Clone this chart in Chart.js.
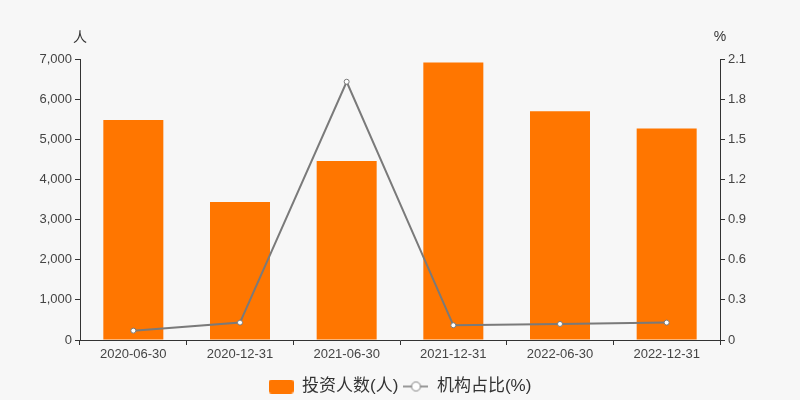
<!DOCTYPE html>
<html>
<head>
<meta charset="utf-8">
<script src="https://cdn.jsdelivr.net/npm/chart.js@4"></script>
<style>
  html, body { margin: 0; padding: 0; background: #f7f7f7; }
  canvas { display: block; }
</style>
</head>
<body>
<canvas id="investorChart" width="800" height="400"></canvas>
<script>
// chart data
const dates = ['2020-06-30', '2020-12-31', '2021-06-30', '2021-12-31', '2022-06-30', '2022-12-31'];
const investorCounts = [5480, 3440, 4460, 6910, 5700, 5270];
const institutionRatio = [0.07, 0.13, 1.93, 0.11, 0.12, 0.13];
const leftTicks = ['0', '1,000', '2,000', '3,000', '4,000', '5,000', '6,000', '7,000'];
const rightTicks = ['0', '0.3', '0.6', '0.9', '1.2', '1.5', '1.8', '2.1'];

const barColor = '#ff7600';
const lineColor = '#7a7a7a';
const fontFamily = '"Liberation Sans", "Noto Sans CJK SC", sans-serif';

// legend icons
function makeBarIcon() {
    const c = document.createElement('canvas');
    c.width = 25; c.height = 14;
    const g = c.getContext('2d');
    g.fillStyle = barColor;
    g.beginPath();
    g.roundRect(0, 0, 25, 14, 3);
    g.fill();
    return c;
}

function makeLineIcon() {
    const c = document.createElement('canvas');
    c.width = 25; c.height = 14;
    const g = c.getContext('2d');
    g.strokeStyle = lineColor;
    g.lineWidth = 1.5;
    g.beginPath();
    g.moveTo(0, 7); g.lineTo(25, 7);
    g.stroke();
    g.fillStyle = '#fff';
    g.lineWidth = 1;
    g.beginPath();
    g.arc(12.5, 7, 4.5, 0, Math.PI * 2);
    g.fill();
    g.stroke();
    return c;
}

const legendIcons = [makeBarIcon(), makeLineIcon()];

// unit labels above each y axis
const axisUnits = {
    id: 'axisUnits',
    afterDraw(chart) {
        const ctx = chart.ctx;
        ctx.save();
        ctx.fillStyle = '#333';
        ctx.font = '14px ' + fontFamily;
        ctx.textAlign = 'center';
        ctx.textBaseline = 'middle';
        ctx.fillText('人', chart.scales.y.right, 38);
        ctx.fillText('%', chart.scales.y1.left, 37);
        ctx.restore();
    }
};

const ctx = document.getElementById('investorChart').getContext('2d');
new Chart(ctx, {
    data: {
        labels: dates,
        datasets: [{
            type: 'bar',
            label: '投资人数(人)',
            data: investorCounts,
            backgroundColor: barColor,
            yAxisID: 'y',
            categoryPercentage: 0.75,
            barPercentage: 0.75,
            order: 1
        }, {
            type: 'line',
            label: '机构占比(%)',
            data: institutionRatio,
            borderColor: lineColor,
            borderWidth: 2,
            pointRadius: 2.5,
            pointBackgroundColor: '#fff',
            pointBorderColor: lineColor,
            pointBorderWidth: 1,
            tension: 0,
            yAxisID: 'y1',
            order: 0
        }]
    },
    plugins: [axisUnits],
    options: {
        responsive: false,
        animation: false,
        layout: { padding: { left: 10, right: 10, top: 59, bottom: -5 } },
        plugins: {
            tooltip: { enabled: false },
            legend: {
                position: 'bottom',
                labels: {
                    usePointStyle: true,
                    pointStyleWidth: 25,
                    padding: 5,
                    color: '#333',
                    font: { size: 17, family: fontFamily },
                    generateLabels(chart) {
                        return chart.data.datasets.map((ds, i) => ({
                            text: ds.label,
                            pointStyle: legendIcons[i],
                            datasetIndex: i,
                            fontColor: '#333',
                            hidden: false,
                            lineWidth: 0
                        }));
                    }
                }
            }
        },
        scales: {
            x: {
                grid: { offset: true, drawOnChartArea: false, drawTicks: true, tickLength: 5, color: '#333' },
                border: { color: '#333' },
                ticks: { color: '#444', padding: 2, font: { size: 13, family: fontFamily }, maxRotation: 0 },
                afterFit(scale) { scale.height = 33; }
            },
            y: {
                position: 'left',
                min: 0,
                max: 7000,
                ticks: {
                    stepSize: 1000,
                    color: '#444',
                    padding: 3,
                    font: { size: 13, family: fontFamily },
                    callback: (v, i) => leftTicks[i]
                },
                grid: { drawOnChartArea: false, drawTicks: true, tickLength: 5, color: '#333' },
                border: { color: '#333' },
                afterFit(scale) { scale.width = 70; }
            },
            y1: {
                position: 'right',
                min: 0,
                max: 2.1,
                ticks: {
                    stepSize: 0.3,
                    color: '#444',
                    padding: 3,
                    font: { size: 13, family: fontFamily },
                    callback: (v, i) => rightTicks[i]
                },
                grid: { drawOnChartArea: false, drawTicks: true, tickLength: 5, color: '#333' },
                border: { color: '#333' },
                afterFit(scale) { scale.width = 70; }
            }
        }
    }
});
</script>
</body>
</html>
